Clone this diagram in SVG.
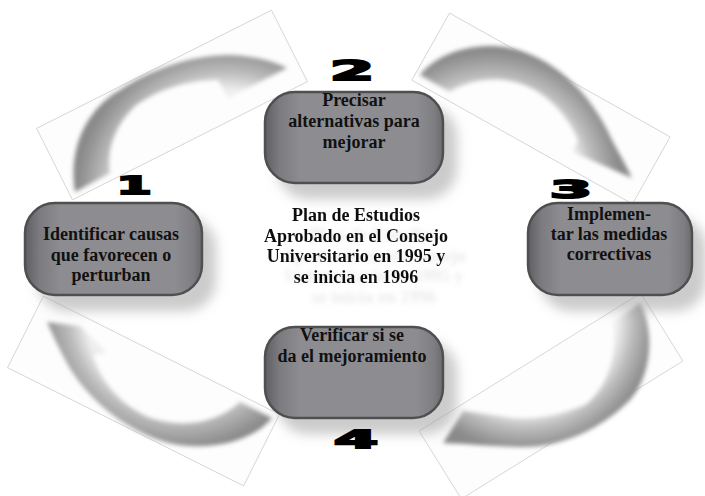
<svg xmlns="http://www.w3.org/2000/svg" width="705" height="496" viewBox="0 0 705 496">
<defs>
<style>
.frame{fill:#fdfdfd;stroke:#c2c2c2;stroke-width:0.6}
.arrow{filter:url(#soft)}
.node rect{fill:url(#nodeFill);stroke:#4f4f4f;stroke-width:2.5;filter:url(#nodeShadow)}
.lbl{font-family:"Liberation Serif","Times New Roman",serif;font-weight:bold;font-size:18px;fill:#111;text-anchor:middle}
.num{font-family:"DejaVu Sans","Liberation Sans",sans-serif;font-weight:bold;font-size:32px;fill:#000;stroke:#000;stroke-width:2.4;stroke-linejoin:miter;text-anchor:middle}
</style>
<filter id="soft" x="-10%" y="-10%" width="120%" height="120%"><feGaussianBlur stdDeviation="2"/></filter>
<filter id="nodeShadow" x="-20%" y="-25%" width="150%" height="170%">
<feGaussianBlur in="SourceAlpha" stdDeviation="6"/>
<feOffset dx="13" dy="15" result="b"/>
<feFlood flood-color="#999" flood-opacity="0.5"/>
<feComposite in2="b" operator="in" result="s"/>
<feMerge><feMergeNode in="s"/><feMergeNode in="SourceGraphic"/></feMerge>
</filter>
<filter id="textShadow" x="-20%" y="-20%" width="150%" height="160%">
<feGaussianBlur in="SourceAlpha" stdDeviation="2.6"/>
<feOffset dx="18" dy="20" result="b"/>
<feFlood flood-color="#aaa" flood-opacity="0.25"/>
<feComposite in2="b" operator="in" result="s"/>
<feMerge><feMergeNode in="s"/><feMergeNode in="SourceGraphic"/></feMerge>
</filter>
<linearGradient id="nodeFill" x1="0" y1="0" x2="1" y2="0">
<stop offset="0" stop-color="#5f5f63"/>
<stop offset="0.08" stop-color="#7b7b7f"/>
<stop offset="0.2" stop-color="#8d8d91"/>
<stop offset="0.85" stop-color="#8d8d91"/>
<stop offset="0.95" stop-color="#7e7e82"/>
<stop offset="1" stop-color="#6a6a6e"/>
</linearGradient>
<radialGradient id="gTL" gradientUnits="userSpaceOnUse" cx="225" cy="195" r="150">
<stop offset="0.7" stop-color="#eeeeee"/><stop offset="0.82" stop-color="#bcbcbc"/><stop offset="0.95" stop-color="#959595"/><stop offset="1" stop-color="#8a8a8a"/>
</radialGradient>
<radialGradient id="gTR" gradientUnits="userSpaceOnUse" cx="490" cy="180" r="130">
<stop offset="0.68" stop-color="#eeeeee"/><stop offset="0.8" stop-color="#bcbcbc"/><stop offset="0.95" stop-color="#959595"/><stop offset="1" stop-color="#8a8a8a"/>
</radialGradient>
<radialGradient id="gBL" gradientUnits="userSpaceOnUse" cx="180" cy="310" r="140">
<stop offset="0.68" stop-color="#eeeeee"/><stop offset="0.8" stop-color="#bcbcbc"/><stop offset="0.95" stop-color="#959595"/><stop offset="1" stop-color="#8a8a8a"/>
</radialGradient>
<radialGradient id="gBR" gradientUnits="userSpaceOnUse" cx="525" cy="320" r="132">
<stop offset="0.7" stop-color="#eeeeee"/><stop offset="0.82" stop-color="#bcbcbc"/><stop offset="0.95" stop-color="#959595"/><stop offset="1" stop-color="#8a8a8a"/>
</radialGradient>
</defs>
<rect width="705" height="496" fill="#fff"/>

<g id="connectors">
<g id="arrow-1-2">
<rect class="frame" x="-131.5" y="-40" width="263" height="80" transform="translate(172,105) rotate(-26.7)"/>
<path class="arrow" fill="url(#gTL)" d="M75,192 C68,150 85,110 120,90 C150,70 190,55 230,55 C255,56 272,61 287,68 L228,98 L218,80 C190,80 160,88 135,106 C115,125 106,150 110,173 Z"/>
</g>
<g id="arrow-2-3">
<rect class="frame" x="-126.5" y="-38.5" width="253" height="77" transform="translate(541,108.5) rotate(29.3)"/>
<path class="arrow" fill="url(#gTR)" d="M420,75 C440,50 480,42 510,48 C550,56 590,90 612,140 C620,155 626,165 632,178 L573,152 L578,140 C565,110 540,85 505,80 C480,78 462,84 450,92 Z"/>
</g>
<g id="arrow-4-1">
<rect class="frame" x="-132" y="-40" width="264" height="80" transform="translate(143.5,391) rotate(26.6)"/>
<path class="arrow" fill="url(#gBL)" d="M272,418 C250,445 200,452 165,442 C120,428 85,395 68,365 C60,350 54,338 47,322 L80,326 L107,353 L93,355 C100,380 120,405 150,418 C180,428 215,425 240,402 Z"/>
</g>
<g id="arrow-3-4">
<rect class="frame" x="-130.5" y="-40" width="261" height="80" transform="translate(551,396) rotate(-31.9)"/>
<path class="arrow" fill="url(#gBR)" d="M640,303 C655,330 652,375 630,400 C600,430 560,448 520,447 C490,446 465,444 443,443 L463,411 L500,416 C530,422 560,415 585,405 C605,390 618,360 613,322 Z"/>
</g>
</g>

<g id="center-text" filter="url(#textShadow)">
<text class="lbl" x="356" y="221">Plan de Estudios</text>
<text class="lbl" x="356" y="242">Aprobado en el Consejo</text>
<text class="lbl" x="356" y="262">Universitario en 1995 y</text>
<text class="lbl" x="356" y="283">se inicia en 1996</text>
</g>

<g id="node1" class="node">
<rect x="25" y="203" width="177" height="92" rx="30"/>
<text class="lbl" x="111" y="240">Identificar causas</text>
<text class="lbl" x="111" y="260.5">que favorecen o</text>
<text class="lbl" x="111" y="281">perturban</text>
<text class="num" transform="translate(134,194) scale(1.6,0.8)">1</text>
</g>

<g id="node2" class="node">
<rect x="265" y="92" width="178" height="91" rx="30"/>
<text class="lbl" x="354" y="106">Precisar</text>
<text class="lbl" x="354" y="127">alternativas para</text>
<text class="lbl" x="354" y="148">mejorar</text>
<text class="num" transform="translate(352,80) scale(1.98,0.82)">2</text>
</g>

<g id="node3" class="node">
<rect x="528" y="203" width="164" height="92" rx="30"/>
<text class="lbl" x="609" y="220">Implemen-</text>
<text class="lbl" x="609" y="240">tar las medidas</text>
<text class="lbl" x="609" y="260">correctivas</text>
<text class="num" transform="translate(571,198) scale(1.9,0.8)">3</text>
</g>

<g id="node4" class="node">
<rect x="265" y="327" width="178" height="91" rx="30"/>
<text class="lbl" x="352" y="341">Verificar si se</text>
<text class="lbl" x="352" y="362">da el mejoramiento</text>
<text class="num" transform="translate(356,448) scale(1.98,0.8)">4</text>
</g>
</svg>
